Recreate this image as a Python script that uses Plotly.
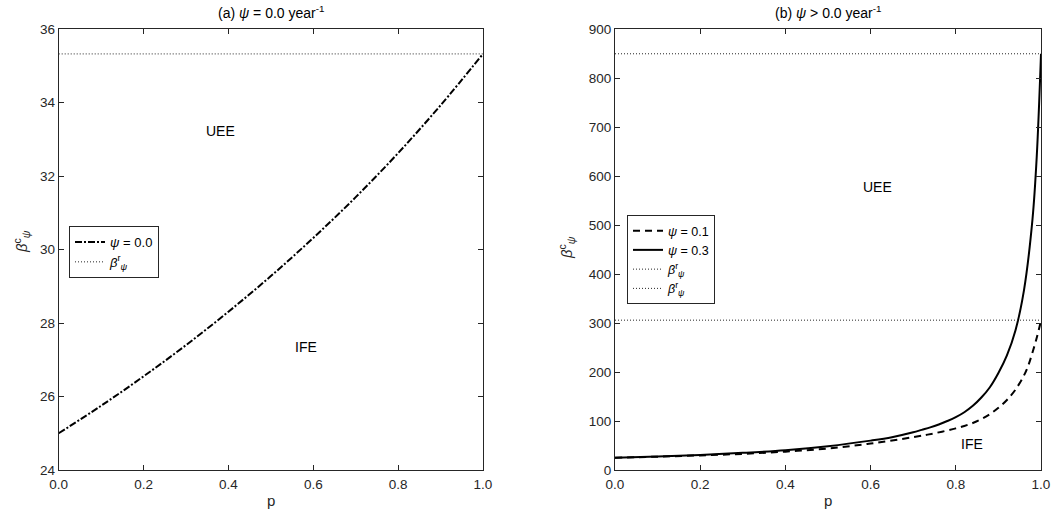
import plotly.graph_objects as go

# ---- data ----
p_a = [0.0, 0.1, 0.2, 0.3, 0.4, 0.5, 0.6, 0.7, 0.8, 0.9, 1.0]
beta_psi00 = [25.0, 25.75, 26.55, 27.40, 28.31, 29.28, 30.32, 31.43, 32.63, 33.93, 35.33]
beta_r_a = 35.33

p_b1 = [0.0, 0.1, 0.2, 0.3, 0.4, 0.5, 0.6, 0.7, 0.75, 0.8, 0.82, 0.84, 0.86, 0.88, 0.9, 0.92, 0.94, 0.96, 0.97, 0.98, 0.99, 1.0]
beta_psi01 = [25.0, 27.2, 29.8, 33.0, 37.5, 44.0, 54.0, 67.0, 75.0, 85.0, 90.0, 96.0, 104.0, 114.0, 127.0, 143.0, 164.0, 193.0, 213.0, 240.0, 270.0, 305.0]

p_b3 = [0.0, 0.1, 0.2, 0.3, 0.4, 0.5, 0.6, 0.65, 0.7, 0.72, 0.74, 0.76, 0.78, 0.8, 0.82, 0.84, 0.86, 0.88, 0.9, 0.92, 0.94, 0.96, 0.98, 0.99, 1.0]
beta_psi03 = [25.0, 27.6, 30.8, 35.0, 40.4, 48.6, 60.0, 67.0, 77.0, 82.0, 87.0, 93.0, 100.0, 108.0, 118.0, 131.0, 148.0, 169.0, 198.0, 234.0, 285.0, 367.0, 512.0, 640.0, 850.0]
beta_r_b = [306.0, 850.0]

x_ticks = [0.0, 0.2, 0.4, 0.6, 0.8, 1.0]
y_ticks_a = [24, 26, 28, 30, 32, 34, 36]
y_ticks_b = [0, 100, 200, 300, 400, 500, 600, 700, 800, 900]

INK = "#262626"
FONT = "Liberation Sans, Arial, Helvetica, sans-serif"
BETA_R = "<i>β</i><sup>r</sup><sub><i>ψ</i></sub>"
W, H = 1052, 516

fig = go.Figure()

# panel (a)
fig.add_trace(go.Scatter(x=p_a, y=beta_psi00, mode="lines", name="<i>ψ</i> = 0.0",
                         line=dict(color="black", width=2, dash="7px,2px,2px,2px", shape="spline"),
                         xaxis="x", yaxis="y", legend="legend"))
fig.add_trace(go.Scatter(x=[0, 1], y=[beta_r_a, beta_r_a], mode="lines", name=BETA_R,
                         line=dict(color=INK, width=1, dash="1px,2px"),
                         xaxis="x", yaxis="y", legend="legend"))

# panel (b)
fig.add_trace(go.Scatter(x=p_b1, y=beta_psi01, mode="lines", name="<i>ψ</i> = 0.1",
                         line=dict(color="black", width=2, dash="7px,5px", shape="spline"),
                         xaxis="x2", yaxis="y2", legend="legend2"))
fig.add_trace(go.Scatter(x=p_b3, y=beta_psi03, mode="lines", name="<i>ψ</i> = 0.3",
                         line=dict(color="black", width=2, shape="spline"),
                         xaxis="x2", yaxis="y2", legend="legend2"))
for v in beta_r_b:
    fig.add_trace(go.Scatter(x=[0, 1], y=[v, v], mode="lines", name=BETA_R,
                             line=dict(color=INK, width=1, dash="1px,2px"),
                             xaxis="x2", yaxis="y2", legend="legend2"))

axis_common = dict(showgrid=False, zeroline=False, showline=True, linecolor=INK, linewidth=1,
                   mirror="ticks", ticks="inside", ticklen=5, tickcolor=INK, automargin=False,
                   tickfont=dict(family=FONT, size=13.5, color=INK))

fig.update_layout(
    width=W, height=H,
    margin=dict(l=0, r=0, t=0, b=0, autoexpand=False),
    paper_bgcolor="white", plot_bgcolor="white",
    font=dict(family=FONT, size=14, color=INK),
    showlegend=True,
    xaxis=dict(domain=[58.7/W, 483/W], range=[0, 1], tickvals=x_ticks, tickformat=".1f", anchor="y",
               ticklabelstandoff=2, **axis_common),
    yaxis=dict(domain=[1-470/H, 1-29.3/H], range=[24, 36], tickvals=y_ticks_a, anchor="x", **axis_common),
    xaxis2=dict(domain=[615/W, 1041/W], range=[0, 1], tickvals=x_ticks, tickformat=".1f", anchor="y2",
                ticklabelstandoff=2, **axis_common),
    yaxis2=dict(domain=[1-470/H, 1-29.3/H], range=[0, 900], tickvals=y_ticks_b, anchor="x2", **axis_common),
    legend=dict(x=69/W, y=1-226/H, xanchor="left", yanchor="top",
                bordercolor=INK, borderwidth=1, bgcolor="white",
                font=dict(family=FONT, size=13, color="black"), tracegroupgap=0, itemwidth=30),
    legend2=dict(x=627/W, y=1-215/H, xanchor="left", yanchor="top",
                 bordercolor=INK, borderwidth=1, bgcolor="white",
                 font=dict(family=FONT, size=12.5, color="black"), tracegroupgap=0, itemwidth=30),
)

def ann(text, x, y, xref="paper", yref="paper", size=14, color="black", angle=0):
    return dict(text=text, x=x, y=y, xref=xref, yref=yref, showarrow=False,
                xanchor="center", yanchor="middle", textangle=angle,
                font=dict(family=FONT, size=size, color=color))

annotations = [
    ann("(a) <i>ψ</i> = 0.0 year<sup>-1</sup>", 271/W, 1-12/H),
    ann("(b) <i>ψ</i> > 0.0 year<sup>-1</sup>", 828/W, 1-12/H),
    ann("p", 271/W, 1-500/H, size=15, color=INK),
    ann("p", 828/W, 1-500/H, size=15, color=INK),
    ann("<i>β</i><sup>c</sup><sub><i>ψ</i></sub>", 22/W, 1-242/H, size=15, color=INK, angle=-90),
    ann("<i>β</i><sup>c</sup><sub><i>ψ</i></sub>", 567/W, 1-248/H, size=15, color=INK, angle=-90),
    ann("UEE", 0.382, 33.23, "x", "y"),
    ann("IFE", 0.584, 27.36, "x", "y"),
    ann("UEE", 0.617, 577, "x2", "y2"),
    ann("IFE", 0.837, 54, "x2", "y2"),
]
fig.update_layout(annotations=annotations)

fig.write_html("out.html", config={"displayModeBar": False},
               post_script="document.body.style.margin='0px';document.body.style.padding='0px';")
